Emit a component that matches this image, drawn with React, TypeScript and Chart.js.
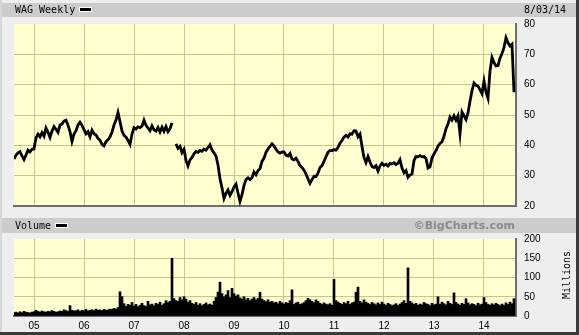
import React, { useEffect, useRef } from "react";
import { Chart, registerables } from "chart.js";
Chart.register(...registerables);

// x positions are fractional years; one sample every ~2 weeks
const START_YEAR = 2004.6;
const STEP = 0.04;

const yearTicks = [2005, 2006, 2007, 2008, 2009, 2010, 2011, 2012, 2013, 2014];
const priceTicks = [20, 30, 40, 50, 60, 70, 80];
const volumeTicks = [0, 50, 100, 150, 200];

const priceValues: (number | null)[] = [
  35.5, 36.8, 37.5, 37.9, 36.5, 35.3, 36.8, 38.4, 37.8, 38.7,
  38.8, 42.5, 43.7, 42.8, 44.2, 43.0, 45.7, 44.3, 42.6, 44.7,
  46.2, 45.3, 44.3, 46.7, 47.0, 48.0, 48.3, 46.6, 44.5, 41.3,
  43.7, 44.8, 46.7, 47.6, 46.6, 45.2, 43.8, 44.5, 42.8, 45.0,
  43.8, 43.4, 42.3, 41.7, 40.3, 39.8, 41.2, 41.8, 42.8, 44.3,
  46.7, 48.3, 50.8, 47.8, 44.7, 43.3, 42.7, 41.6, 40.3, 43.7,
  45.8, 45.4, 46.1, 45.8, 46.3, 48.3, 46.6, 45.7, 44.8, 46.4,
  45.1, 44.7, 45.9, 44.4, 46.0, 44.6, 46.2, 44.5, 45.4, 47.4,
  null, 40.5, 39.0, 39.7, 37.6, 38.7, 35.0, 33.2, 35.2, 36.0,
  37.2, 38.0, 37.7, 38.3, 38.0, 38.8, 38.4, 39.3, 40.2, 38.4,
  37.5, 36.5, 33.5, 29.0, 26.0, 22.5, 24.2, 25.3, 23.5, 24.7,
  26.3, 27.2, 24.3, 21.5, 23.7, 26.8, 28.7, 29.3, 28.7, 29.3,
  31.2, 30.3, 31.7, 32.3, 34.7, 35.8, 37.7, 38.8, 39.7, 40.5,
  39.8, 38.7, 37.8, 37.4, 37.8, 37.8, 36.8, 36.5, 37.3, 35.5,
  35.2, 35.8, 34.7, 33.3, 32.7, 31.8, 30.5, 29.0, 27.5, 28.7,
  29.8, 29.7, 30.8, 32.7, 33.3, 34.7, 36.3, 37.7, 38.3, 38.2,
  38.6, 38.4, 39.3, 40.7, 41.6, 42.7, 43.3, 42.7, 43.8, 43.7,
  44.8, 44.7, 42.8, 43.7, 39.6, 36.0, 34.3, 36.3, 34.5, 33.0,
  32.7, 33.3, 31.5, 33.2, 34.1, 33.4, 33.8, 33.2, 34.0, 33.9,
  34.3, 33.7, 34.1, 35.3, 32.5, 31.0, 31.7, 29.5, 30.2, 30.5,
  35.0, 36.3, 36.2, 36.6, 36.2, 36.3, 35.7, 32.5, 32.9, 35.8,
  37.2, 38.3, 39.7, 40.6, 41.2, 43.0, 45.5, 47.0, 49.3, 48.3,
  49.7, 48.3, 49.7, 43.8, 51.0, 49.8, 48.5, 50.7, 54.5, 58.0,
  60.5, 59.8, 59.5, 58.3, 57.0, 61.2, 57.5, 55.5, 64.5, 69.0,
  67.3, 66.2, 66.3, 68.7, 70.3, 72.2, 75.5, 73.8, 72.7, 73.3,
  57.5,
];

const volumeValues: number[] = [
  9, 10, 8, 11, 9, 12, 10, 9, 8, 10,
  11, 15, 12, 10, 13, 11, 10, 12, 11, 14,
  12, 10, 11, 13, 12, 16, 14, 12, 27, 15,
  13, 14, 16, 12, 15, 14, 17, 13, 15, 16,
  14, 18, 15, 16, 14, 17, 15, 16, 18, 17,
  20, 18, 22, 63, 50, 32, 25, 30, 28, 35,
  26, 30, 24, 28, 33, 27, 25, 38, 29, 31,
  27, 33, 30, 36, 28, 32, 40, 35, 38, 150,
  45, 40, 38, 48, 42, 50, 44, 36, 40, 33,
  30, 35, 28, 32, 27, 30, 34, 29, 31, 28,
  38, 48, 62, 88, 58, 50, 55, 66, 48, 72,
  58, 52, 55, 47, 44, 50, 42, 46, 40, 44,
  48, 42, 46, 62, 44, 40, 37, 42, 36, 38,
  34, 36, 32, 38, 34, 31, 35, 33, 40, 68,
  30, 34, 36, 30, 32, 35, 40, 46, 42, 38,
  35, 42, 38, 33, 30, 34, 31, 29, 32, 28,
  95, 40, 36, 33, 30, 35, 32, 38, 30, 34,
  36, 62, 75, 38, 34, 42, 36, 33, 30, 35,
  32, 29, 34, 30, 36, 31, 28, 33, 30, 27,
  29, 32, 27, 31, 35, 40, 33, 125, 38, 34,
  30, 33, 28, 31, 29, 35, 32, 30, 27, 33,
  29, 31, 50, 30, 36, 32, 29, 38, 33, 30,
  60, 35, 31, 28, 33, 30, 45, 34, 29, 32,
  30, 27, 33, 29, 31, 48, 35, 30, 28, 32,
  29, 33, 30, 27, 31, 28, 34, 30, 36, 32,
  45,
];

const X_MIN = 2004.6;
const X_MAX = 2014.64;

const PLOT_BG = "#FFFFD0";
const GRID = "#C6C68E";
const FRAME = "#6e6e6e";
const NUM_FONT = { family: "'Liberation Sans', Arial, sans-serif", size: 10 };

const bgPlugin = {
  id: "plotBg",
  beforeDraw(chart: any) {
    const { ctx, chartArea: a } = chart;
    ctx.save();
    ctx.fillStyle = PLOT_BG;
    ctx.fillRect(a.left, a.top, a.right - a.left, a.bottom - a.top);
    ctx.restore();
  },
};

function gridColor(minV: number, maxV: number) {
  return (c: any) => {
    const v = c.tick ? c.tick.value : null;
    if (v === minV || v === maxV) return "rgba(0,0,0,0)";
    return GRID;
  };
}

function xPoints(values: (number | null)[]) {
  return values.map((v, i) => ({ x: START_YEAR + i * STEP, y: v }));
}

export default function App() {
  const priceRef = useRef<HTMLCanvasElement>(null);
  const volRef = useRef<HTMLCanvasElement>(null);

  useEffect(() => {
    document.body.style.margin = "0";
    const pc = new Chart(priceRef.current!, {
      type: "line",
      data: {
        datasets: [
          {
            data: xPoints(priceValues) as any,
            borderColor: "#000",
            borderWidth: 2.8,
            pointRadius: 0,
            tension: 0,
            spanGaps: false,
          },
        ],
      },
      options: {
        animation: false,
        responsive: false,
        maintainAspectRatio: false,
        events: [],
        layout: { padding: { left: 14, top: 13, right: 0, bottom: 13 } },
        plugins: { legend: { display: false }, tooltip: { enabled: false } },
        scales: {
          x: {
            type: "linear",
            offset: false,
            min: X_MIN,
            max: X_MAX,
            afterBuildTicks: (s: any) => {
              s.ticks = yearTicks.map((v) => ({ value: v }));
            },
            afterFit: (s: any) => {
              s.height = 0;
            },
            ticks: { display: false },
            grid: { color: GRID, lineWidth: 1, drawTicks: false, offset: false },
            border: { display: true, color: FRAME, width: 2 },
          },
          y: {
            position: "right",
            min: 20,
            max: 80,
            afterBuildTicks: (s: any) => {
              s.ticks = priceTicks.map((v) => ({ value: v }));
            },
            afterFit: (s: any) => {
              s.width = 63;
            },
            ticks: { color: "#000", font: NUM_FONT, padding: 8 },
            grid: { color: gridColor(20, 80), lineWidth: 1, drawTicks: false },
            border: { display: true, color: FRAME, width: 2 },
          },
        },
      },
      plugins: [bgPlugin],
    });

    const vc = new Chart(volRef.current!, {
      type: "bar",
      data: {
        datasets: [
          {
            data: xPoints(volumeValues) as any,
            backgroundColor: "#000",
            borderWidth: 0,
            barPercentage: 1,
            categoryPercentage: 1,
          },
        ],
      },
      options: {
        animation: false,
        responsive: false,
        maintainAspectRatio: false,
        events: [],
        layout: { padding: { left: 14, top: 14, right: 0, bottom: 0 } },
        plugins: { legend: { display: false }, tooltip: { enabled: false } },
        scales: {
          x: {
            type: "linear",
            offset: false,
            min: X_MIN,
            max: X_MAX,
            afterBuildTicks: (s: any) => {
              s.ticks = yearTicks.map((v) => ({ value: v }));
            },
            afterFit: (s: any) => {
              s.height = 19;
            },
            ticks: {
              color: "#000",
              font: NUM_FONT,
              padding: 4,
              maxRotation: 0,
              autoSkip: false,
              callback: (v: any) => String(v).slice(2),
            },
            grid: { color: GRID, lineWidth: 1, drawTicks: false, offset: false },
            border: { display: true, color: FRAME, width: 2 },
          },
          y: {
            position: "right",
            min: 0,
            max: 200,
            afterBuildTicks: (s: any) => {
              s.ticks = volumeTicks.map((v) => ({ value: v }));
            },
            afterFit: (s: any) => {
              s.width = 63;
            },
            ticks: { color: "#000", font: NUM_FONT, padding: 8 },
            grid: { color: gridColor(0, 200), lineWidth: 1, drawTicks: false },
            border: { display: true, color: FRAME, width: 2 },
          },
        },
      },
      plugins: [bgPlugin],
    });

    return () => {
      pc.destroy();
      vc.destroy();
    };
  }, []);

  const mono: React.CSSProperties = {
    position: "absolute",
    fontFamily: "'DejaVu Sans Mono', monospace",
    fontSize: 10,
    color: "#000",
    whiteSpace: "nowrap",
  };
  const swatch = (left: number, top: number): React.CSSProperties => ({
    position: "absolute",
    left,
    top,
    width: 11,
    height: 3,
    background: "#000",
    border: "1px solid #fff",
  });

  return (
    <div
      style={{
        position: "fixed",
        left: 0,
        top: 0,
        width: 579,
        height: 335,
        background: "#EEEEEE",
        overflow: "hidden",
      }}
    >
      <div style={{ position: "absolute", left: 2, top: 3, width: 574, height: 14, background: "#CCCCCC" }} />
      <div style={{ position: "absolute", left: 2, top: 218, width: 574, height: 15, background: "#CCCCCC" }} />
      <canvas
        ref={priceRef}
        width={579}
        height={210}
        style={{ position: "absolute", left: 0, top: 10, width: 579, height: 210 }}
      />
      <canvas
        ref={volRef}
        width={579}
        height={110}
        style={{ position: "absolute", left: 0, top: 225, width: 579, height: 110 }}
      />
      <div style={{ ...mono, left: 15, top: 3, lineHeight: "14px" }}>WAG Weekly</div>
      <div style={swatch(79, 7)} />
      <div style={{ ...mono, left: 524, top: 3, lineHeight: "14px" }}>8/03/14</div>
      <div style={{ ...mono, left: 15, top: 218, lineHeight: "15px" }}>Volume</div>
      <div style={swatch(55, 223)} />
      <div
        style={{
          position: "absolute",
          right: 64,
          top: 218,
          lineHeight: "15px",
          fontFamily: "'DejaVu Sans', Verdana, sans-serif",
          fontWeight: "bold",
          fontSize: 11,
          color: "#8a8a8a",
          whiteSpace: "nowrap",
        }}
      >
        ©BigCharts.com
      </div>
      <div
        style={{
          ...mono,
          left: 567,
          top: 275,
          lineHeight: "10px",
          transform: "translate(-50%, -50%) rotate(-90deg)",
        }}
      >
        Millions
      </div>
      <div style={{ position: "absolute", left: 0, top: 0, width: 2, height: 335, background: "#D6D6D6" }} />
      <div style={{ position: "absolute", left: 576, top: 0, width: 3, height: 335, background: "#3a3a3a" }} />
      <div style={{ position: "absolute", left: 0, top: 332, width: 579, height: 3, background: "#3a3a3a" }} />
    </div>
  );
}
